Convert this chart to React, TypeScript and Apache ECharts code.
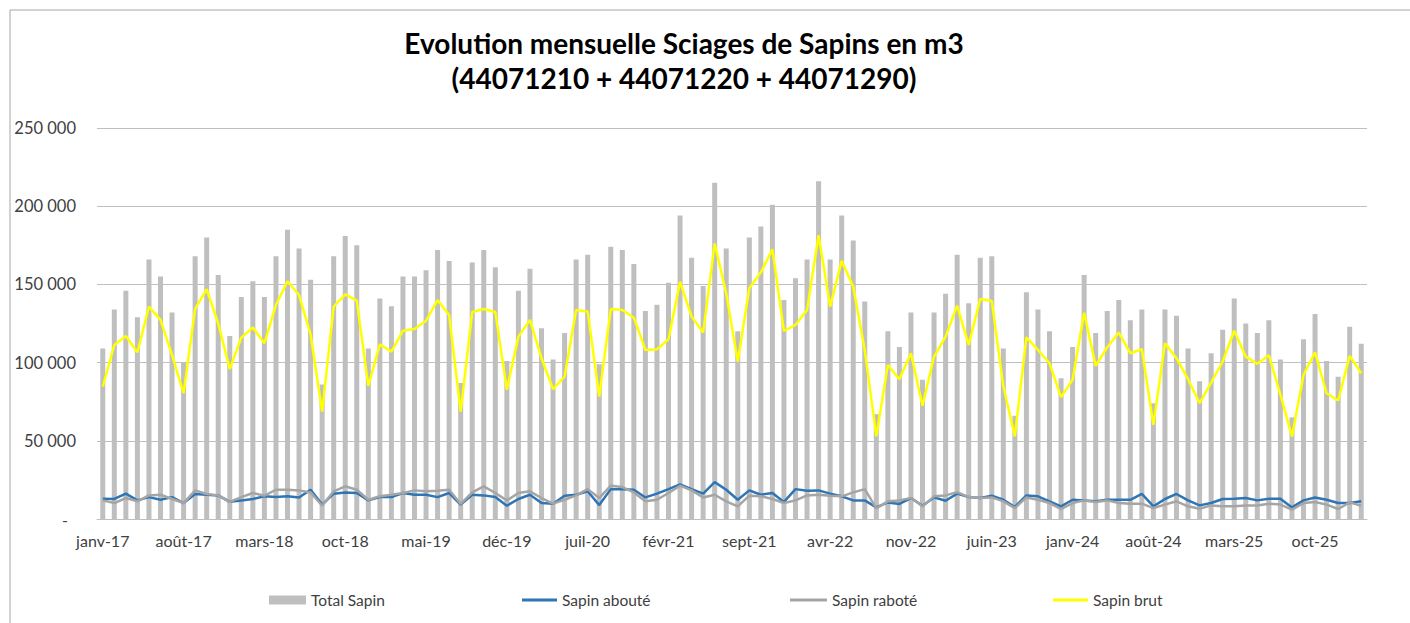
import React, { useEffect, useRef } from "react";
import * as echarts from "echarts";

const monthNames = ["janv", "févr", "mars", "avr", "mai", "juin", "juil", "août", "sept", "oct", "nov", "déc"];
const startYear = 17;
const monthCount = 110;

const totalSapin = [
  109, 134, 146, 129, 166, 155, 132, 100, 168, 180, 156, 117,
  142, 152, 142, 168, 185, 173, 153, 86, 168, 181, 175, 109,
  141, 136, 155, 155, 159, 172, 165, 87, 164, 172, 161, 101,
  146, 160, 122, 102, 119, 166, 169, 99, 174, 172, 163, 133,
  137, 151, 194, 167, 149, 215, 173, 120, 180, 187, 201, 140,
  154, 166, 216, 166, 194, 178, 139, 67, 120, 110, 132, 89,
  132, 144, 169, 138, 167, 168, 109, 66, 145, 134, 120, 90,
  110, 156, 119, 133, 140, 127, 134, 74, 134, 130, 109, 88,
  106, 121, 141, 125, 119, 127, 102, 65, 115, 131, 101, 91,
  123, 112,
].map((v) => v * 1000);

const sapinAboute = [
  13.0, 12.8, 16.2, 11.9, 14.0, 12.3, 14.0, 10.2, 16.0, 15.5, 15.1, 11.0,
  11.9, 12.8, 14.5, 14.0, 14.5, 13.8, 18.7, 9.2, 16.2, 17.0, 16.6, 11.9,
  14.0, 14.0, 16.6, 15.5, 15.5, 14.0, 16.6, 9.2, 15.5, 15.1, 14.0, 8.5,
  12.8, 15.5, 10.2, 9.8, 14.9, 15.5, 17.7, 8.9, 19.1, 19.1, 18.7, 13.8,
  16.2, 19.1, 22.1, 19.1, 16.2, 23.6, 18.7, 12.3, 18.3, 15.5, 16.6, 10.9,
  19.1, 18.1, 18.3, 16.2, 14.5, 11.9, 11.9, 7.4, 10.6, 9.6, 13.4, 8.5,
  13.8, 11.7, 16.2, 14.0, 13.4, 14.9, 12.3, 7.7, 15.1, 14.5, 11.3, 8.1,
  12.3, 11.9, 11.3, 12.3, 12.3, 12.3, 16.0, 8.1, 12.8, 16.0, 11.9, 8.7,
  10.2, 12.8, 13.0, 13.4, 11.9, 13.0, 13.0, 7.4, 11.9, 13.8, 12.3, 10.2,
  10.2, 11.3,
].map((v) => Math.round(v * 1000));

const sapinRabote = [
  11.9, 10.2, 13.4, 11.3, 15.1, 15.5, 12.8, 10.2, 18.3, 16.0, 15.1, 11.0,
  14.0, 16.6, 14.9, 18.7, 18.7, 18.3, 17.0, 8.5, 17.7, 20.9, 18.7, 12.3,
  14.5, 15.5, 16.6, 18.3, 17.7, 18.1, 18.7, 9.6, 17.0, 20.9, 16.6, 11.9,
  16.6, 17.7, 13.4, 9.8, 12.3, 15.1, 19.1, 13.4, 21.3, 20.4, 17.0, 11.3,
  12.3, 16.6, 21.3, 18.3, 13.8, 15.5, 11.3, 8.1, 14.9, 14.5, 12.8, 10.2,
  11.9, 15.1, 15.5, 14.9, 14.5, 17.0, 19.1, 6.8, 11.3, 11.9, 13.4, 8.1,
  14.5, 15.1, 17.2, 14.0, 13.4, 13.8, 11.3, 7.0, 13.8, 12.3, 10.2, 6.4,
  10.2, 11.9, 10.9, 11.9, 10.2, 9.8, 9.8, 7.0, 9.2, 11.3, 8.1, 6.6,
  8.7, 8.1, 8.1, 8.7, 8.7, 9.8, 9.2, 6.0, 10.2, 10.9, 9.2, 6.4,
  10.6, 8.5,
].map((v) => Math.round(v * 1000));

const sapinBrut = [
  84.7, 111.3, 117.0, 106.6, 135.8, 127.3, 105.0, 80.4, 134.3, 147.0, 125.0, 95.8,
  116.0, 122.4, 112.4, 136.8, 152.0, 143.2, 118.0, 68.7, 135.8, 143.6, 139.6, 85.1,
  111.7, 107.0, 120.4, 121.5, 126.8, 140.0, 130.4, 68.7, 132.4, 134.3, 132.4, 82.6,
  116.6, 127.3, 102.8, 83.0, 91.1, 133.6, 132.6, 78.3, 134.3, 133.6, 128.7, 108.1,
  108.5, 114.9, 151.7, 129.4, 119.2, 176.2, 144.3, 100.7, 147.5, 157.7, 172.4, 120.2,
  124.1, 133.6, 181.5, 135.8, 165.1, 148.5, 108.0, 52.8, 98.5, 89.4, 106.0, 72.4,
  103.8, 116.6, 136.4, 111.3, 140.7, 139.4, 85.0, 52.8, 116.2, 108.1, 99.6, 77.9,
  89.0, 131.9, 97.9, 109.8, 119.2, 106.0, 108.5, 60.2, 112.4, 102.8, 89.4, 74.1,
  87.2, 100.7, 120.4, 103.8, 99.2, 104.7, 79.5, 52.8, 92.1, 106.6, 80.4, 75.8,
  104.3, 93.2,
].map((v) => Math.round(v * 1000));

const yTicks = [0, 50000, 100000, 150000, 200000, 250000];

const categories: string[] = [];
for (let i = 0; i < monthCount; i++) {
  const m = i % 12;
  const y = startYear + Math.floor(i / 12);
  categories.push(`${monthNames[m]}-${y}`);
}

const FONT = "Lato, 'Open Sans', sans-serif";

function fmt(v: number): string {
  return String(v).replace(/\B(?=(\d{3})+(?!\d))/g, " ");
}

export default function App() {
  const ref = useRef<HTMLDivElement>(null);
  useEffect(() => {
    document.body.style.margin = "0";
    if (!ref.current) return;
    const chart = echarts.init(ref.current, null, { renderer: "svg" });
    const legendText = { fontFamily: FONT, fontSize: 15.5, color: "#404040" };
    const legendBase = { top: 592, padding: 0, icon: "rect", textStyle: legendText };
    chart.setOption({
      animation: false,
      backgroundColor: "#ffffff",
      title: {
        text: "Evolution mensuelle Sciages de Sapins en m3\n(44071210 + 44071220 + 44071290)",
        left: 684,
        textAlign: "center",
        top: 25,
        padding: 0,
        textStyle: {
          fontFamily: FONT,
          fontSize: 28,
          fontWeight: "bold",
          color: "#000000",
          lineHeight: 35,
        },
      },
      graphic: [
        {
          type: "rect",
          shape: { x: 10, y: 10, width: 1430, height: 650 },
          style: { fill: "none", stroke: "#a6a6a6", lineWidth: 1 },
          silent: true,
        },
      ],
      legend: [
        { ...legendBase, data: ["Total Sapin"], left: 269, itemWidth: 37, itemHeight: 9 },
        { ...legendBase, data: ["Sapin abouté"], left: 522, itemWidth: 35, itemHeight: 3 },
        { ...legendBase, data: ["Sapin raboté"], left: 790, itemWidth: 37, itemHeight: 3 },
        { ...legendBase, data: ["Sapin brut"], left: 1053, itemWidth: 35, itemHeight: 3 },
      ],
      grid: { left: 97, right: 43, top: 128, bottom: 104, containLabel: false },
      xAxis: {
        type: "category",
        data: categories,
        boundaryGap: true,
        axisLine: { show: true, lineStyle: { color: "#bfbfbf", width: 1 } },
        axisTick: { show: false },
        axisLabel: {
          interval: 6,
          fontFamily: FONT,
          fontSize: 16,
          color: "#404040",
          margin: 13,
        },
      },
      yAxis: {
        type: "value",
        min: 0,
        max: 250000,
        interval: 50000,
        axisLine: { show: false },
        axisTick: { show: false },
        splitLine: { show: true, lineStyle: { color: "#bfbfbf", width: 1 } },
        axisLabel: {
          fontFamily: FONT,
          fontSize: 16.5,
          color: "#404040",
          margin: 21,
          formatter: (v: number) => (v === yTicks[0] ? "{d|-}" : fmt(v)),
          rich: {
            d: { fontFamily: FONT, fontSize: 16, color: "#404040", padding: [0, 8, 0, 0] },
          },
        },
      },
      series: [
        {
          name: "Total Sapin",
          type: "bar",
          data: totalSapin,
          barWidth: 5,
          itemStyle: { color: "#bfbfbf" },
        },
        {
          name: "Sapin abouté",
          type: "line",
          data: sapinAboute,
          symbol: "none",
          lineStyle: { color: "#2e75b6", width: 2.5 },
          itemStyle: { color: "#2e75b6" },
        },
        {
          name: "Sapin raboté",
          type: "line",
          data: sapinRabote,
          symbol: "none",
          lineStyle: { color: "#a5a5a5", width: 2.5 },
          itemStyle: { color: "#a5a5a5" },
        },
        {
          name: "Sapin brut",
          type: "line",
          data: sapinBrut,
          symbol: "none",
          lineStyle: { color: "#ffff00", width: 2.5 },
          itemStyle: { color: "#ffff00" },
        },
      ],
    });
    return () => chart.dispose();
  }, []);
  return <div ref={ref} style={{ width: 1410, height: 623 }} />;
}
